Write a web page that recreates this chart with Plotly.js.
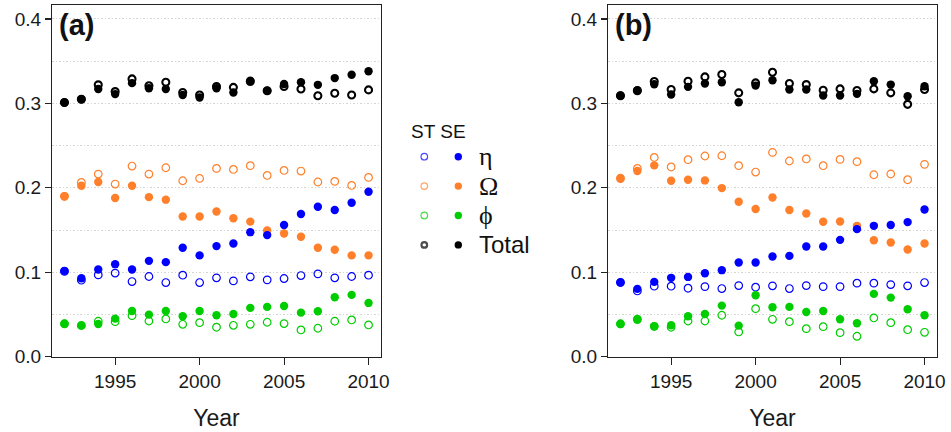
<!DOCTYPE html>
<html>
<head>
<meta charset="utf-8">
<script src="https://cdn.plot.ly/plotly-3.0.1.min.js"></script>
<style>
  html, body { margin: 0; padding: 0; background: #fff; }
  #chart { width: 951px; height: 432px; }
</style>
</head>
<body>
<div id="chart"></div>
<script>
// Years sampled in both panels
const years = [1992, 1993, 1994, 1995, 1996, 1997, 1998, 1999, 2000, 2001,
               2002, 2003, 2004, 2005, 2006, 2007, 2008, 2009, 2010];

// Panel (a)
const a_eta_ST = [0.101, 0.0906, 0.0969, 0.099, 0.089, 0.095, 0.0878, 0.0965, 0.0878, 0.0934,
                  0.0898, 0.0946, 0.091, 0.0926, 0.0961, 0.0981, 0.0934, 0.095, 0.0965];
const a_eta_SE = [0.1017, 0.093, 0.1032, 0.1096, 0.1032, 0.1135, 0.112, 0.129, 0.120, 0.131,
                  0.134, 0.1475, 0.144, 0.156, 0.169, 0.1776, 0.1737, 0.1823, 0.1954];
const a_omega_ST = [0.190, 0.2064, 0.2163, 0.2045, 0.2258, 0.2163, 0.2238, 0.2084, 0.2112, 0.223,
                    0.2218, 0.2262, 0.2147, 0.2206, 0.2199, 0.2069, 0.2076, 0.2028, 0.2123];
const a_omega_SE = [0.190, 0.2025, 0.207, 0.188, 0.2025, 0.189, 0.186, 0.166, 0.166, 0.172,
                    0.164, 0.160, 0.1495, 0.146, 0.142, 0.129, 0.1266, 0.120, 0.120];
const a_phi_ST = [0.039, 0.037, 0.042, 0.0415, 0.0486, 0.0423, 0.0447, 0.0384, 0.0403, 0.0349,
                  0.0372, 0.0384, 0.0408, 0.0392, 0.0317, 0.0337, 0.042, 0.0435, 0.0376];
const a_phi_SE = [0.0392, 0.0368, 0.0388, 0.0451, 0.0542, 0.0498, 0.0542, 0.0479, 0.0542, 0.0491,
                  0.0506, 0.0578, 0.059, 0.0601, 0.0522, 0.0538, 0.0704, 0.0732, 0.0637];
const a_tot_ST = [0.301, 0.305, 0.322, 0.314, 0.329, 0.321, 0.325, 0.313, 0.310, 0.320,
                  0.319, 0.326, 0.315, 0.320, 0.317, 0.309, 0.312, 0.310, 0.316];
const a_tot_SE = [0.301, 0.305, 0.317, 0.311, 0.324, 0.318, 0.317, 0.310, 0.307, 0.318,
                  0.313, 0.327, 0.315, 0.323, 0.325, 0.322, 0.330, 0.334, 0.338];

// Panel (b)
const b_eta_ST = [0.088, 0.0779, 0.0835, 0.0835, 0.0811, 0.083, 0.0807, 0.0842, 0.0823, 0.0839,
                  0.0807, 0.0842, 0.083, 0.083, 0.0871, 0.0871, 0.0854, 0.0839, 0.0878];
const b_eta_SE = [0.0878, 0.0803, 0.0886, 0.0934, 0.0945, 0.0989, 0.1025, 0.1115, 0.1115, 0.1186,
                  0.1194, 0.1305, 0.1305, 0.1384, 0.1511, 0.155, 0.1559, 0.1594, 0.1744];
const b_omega_ST = [0.211, 0.223, 0.236, 0.2247, 0.2333, 0.2377, 0.238, 0.2262, 0.2187, 0.242,
                    0.2318, 0.2342, 0.2262, 0.2337, 0.231, 0.2155, 0.2164, 0.2096, 0.2278];
const b_omega_SE = [0.2116, 0.2199, 0.2266, 0.2084, 0.2096, 0.2088, 0.1997, 0.1835, 0.1749, 0.1886,
                    0.1737, 0.1696, 0.1598, 0.1602, 0.155, 0.138, 0.1352, 0.1269, 0.134];
const b_phi_ST = [0.039, 0.044, 0.036, 0.0349, 0.0423, 0.0423, 0.0491, 0.0293, 0.0569, 0.0443,
                  0.0415, 0.0332, 0.0356, 0.0285, 0.0242, 0.0459, 0.0403, 0.032, 0.0289];
const b_phi_SE = [0.0388, 0.0447, 0.036, 0.0372, 0.0479, 0.0506, 0.0605, 0.0368, 0.0728, 0.0586,
                  0.059, 0.053, 0.0542, 0.0443, 0.0396, 0.0744, 0.07, 0.0562, 0.0491];
const b_tot_ST = [0.309, 0.315, 0.3259, 0.3164, 0.3262, 0.3314, 0.3342, 0.3125, 0.3243, 0.3369,
                  0.3235, 0.3223, 0.3155, 0.3172, 0.3152, 0.3172, 0.3125, 0.2989, 0.3164];
const b_tot_SE = [0.3093, 0.3155, 0.3227, 0.3105, 0.3196, 0.3235, 0.325, 0.3013, 0.3211, 0.3274,
                  0.3164, 0.3164, 0.3093, 0.3093, 0.3113, 0.3262, 0.3223, 0.3084, 0.3203];

// Legend content
const legendLabels = ['\u03b7', '\u03a9', '\u03d5', 'Total'];
const seriesColors = ['#0000ff', '#ff7f2a', '#00cd00', '#000000'];
const xTicks = [1995, 2000, 2005, 2010];
const yTicks = [0.0, 0.1, 0.2, 0.3, 0.4];
const gridTicks = [0.05, 0.1, 0.15, 0.2, 0.25, 0.3, 0.35, 0.4];

const W = 951, H = 432;
const px = x => x / W;
const py = y => 1 - y / H;

const FONT = '"Liberation Sans", Arial, sans-serif';
const SERIF = '"Liberation Serif", "Times New Roman", serif';

function openTrace(x, y, color, xa, ya, thick) {
  return {
    type: 'scatter', mode: 'markers', x: x, y: y, xaxis: xa, yaxis: ya,
    hoverinfo: 'skip', showlegend: false,
    marker: { symbol: 'circle-open', size: thick ? 7 : 7.6, color: color,
              line: { color: color, width: thick ? 2.1 : 1.2 } }
  };
}
function filledTrace(x, y, color, xa, ya) {
  return {
    type: 'scatter', mode: 'markers', x: x, y: y, xaxis: xa, yaxis: ya,
    hoverinfo: 'skip', showlegend: false,
    marker: { symbol: 'circle', size: 8.4, color: color, line: { width: 0 } }
  };
}

const panels = [
  { xa: 'x', ya: 'y',
    ST: [a_eta_ST, a_omega_ST, a_phi_ST, a_tot_ST],
    SE: [a_eta_SE, a_omega_SE, a_phi_SE, a_tot_SE] },
  { xa: 'x2', ya: 'y2',
    ST: [b_eta_ST, b_omega_ST, b_phi_ST, b_tot_ST],
    SE: [b_eta_SE, b_omega_SE, b_phi_SE, b_tot_SE] }
];

const traces = [];
panels.forEach(p => {
  // open (ST) markers first, filled (SE) markers drawn over them
  [0, 1, 2, 3].forEach(i => traces.push(openTrace(years, p.ST[i], seriesColors[i], p.xa, p.ya, i === 3)));
  [1, 2, 0, 3].forEach(i => traces.push(filledTrace(years, p.SE[i], seriesColors[i], p.xa, p.ya)));
});

// Legend block: two marker columns (ST, SE) on a hidden axis, one row per series
const rows = [0, 1, 2, 3];
traces.push({
  type: 'scatter', mode: 'markers', x: rows.map(() => 0), y: rows.map(r => -r),
  xaxis: 'x3', yaxis: 'y3', hoverinfo: 'skip', showlegend: false,
  marker: { symbol: 'circle-open', size: rows.map(r => r === 3 ? 5.6 : 6.6),
            color: seriesColors, line: { color: seriesColors, width: rows.map(r => r === 3 ? 2.2 : 1.2) } }
});
traces.push({
  type: 'scatter', mode: 'markers', x: rows.map(() => 1), y: rows.map(r => -r),
  xaxis: 'x3', yaxis: 'y3', hoverinfo: 'skip', showlegend: false,
  marker: { symbol: 'circle', size: 7.4, color: seriesColors, line: { width: 0 } }
});

const plotTop = 5.3, plotBottom = 356.7;
const yRange = [0, 0.4162];
const xRange = [1991.28, 2010.72];

function xAxis(l, r, anchor) {
  return {
    domain: [px(l), px(r)], anchor: anchor, range: xRange, fixedrange: true,
    showgrid: false, zeroline: false,
    showline: true, mirror: true, linecolor: '#222', linewidth: 1.3,
    ticks: 'outside', ticklen: 7, tickwidth: 1.1, tickcolor: '#222',
    tickmode: 'array', tickvals: xTicks, ticktext: xTicks.map(String),
    tickfont: { family: FONT, size: 19, color: '#1a1a1a' },
    title: { text: 'Year', font: { family: FONT, size: 23, color: '#1a1a1a' }, standoff: 19 }
  };
}
function yAxis(anchor) {
  return {
    domain: [py(plotBottom), py(plotTop)], anchor: anchor, range: yRange, fixedrange: true,
    zeroline: false,
    showline: true, mirror: true, linecolor: '#222', linewidth: 1.3,
    ticks: 'outside', ticklen: 6, tickwidth: 1.1, tickcolor: '#222',
    tickmode: 'array', tickvals: yTicks, ticktext: yTicks.map(v => v.toFixed(1)),
    tickfont: { family: FONT, size: 19, color: '#1a1a1a' },
    showgrid: false,
    // light dotted reference lines every 0.05
    minor: { tickmode: 'array', tickvals: gridTicks, showgrid: true, ticks: '',
             gridcolor: '#d4d4d4', gridwidth: 1, griddash: '1.5px,2px' }
  };
}

// Hidden axis carrying the legend markers
const colW = 34, rowH = 29.4;
const legL = 410, legR = 540, legT = 140, legB = 260;
const col0 = 424.3, row0 = 156.7;

const layout = {
  width: W, height: H,
  margin: { l: 0, r: 0, t: 0, b: 0 },
  paper_bgcolor: '#ffffff', plot_bgcolor: '#ffffff',
  showlegend: false,
  xaxis: xAxis(52.3, 380.7, 'y'),
  yaxis: yAxis('x'),
  xaxis2: xAxis(608.3, 936.7, 'y2'),
  yaxis2: yAxis('x2'),
  xaxis3: { domain: [px(legL), px(legR)], anchor: 'y3', visible: false, fixedrange: true,
            range: [-(col0 - legL) / colW, (legR - col0) / colW] },
  yaxis3: { domain: [py(legB), py(legT)], anchor: 'x3', visible: false, fixedrange: true,
            range: [-(legB - row0) / rowH, (row0 - legT) / rowH] },
  annotations: [
    { xref: 'paper', yref: 'paper', x: px(56.5), y: py(25), xanchor: 'left', yanchor: 'middle',
      text: '<b>(a)</b>', showarrow: false, font: { family: FONT, size: 29, color: '#111' } },
    { xref: 'paper', yref: 'paper', x: px(612.5), y: py(25), xanchor: 'left', yanchor: 'middle',
      text: '<b>(b)</b>', showarrow: false, font: { family: FONT, size: 29, color: '#111' } },
    { xref: 'paper', yref: 'paper', x: px(409), y: py(131.5), xanchor: 'left', yanchor: 'middle',
      text: 'ST SE', showarrow: false, font: { family: FONT, size: 19, color: '#111' } }
  ].concat(legendLabels.map((t, i) => ({
    xref: 'x3', yref: 'y3', x: 1.55, y: -i, xanchor: 'left', yanchor: 'middle',
    text: t, showarrow: false,
    font: { family: i === 3 ? FONT : SERIF, size: i === 3 ? 24 : 26, color: '#111' }
  })))
};

Plotly.newPlot('chart', traces, layout, { staticPlot: true, displayModeBar: false });
</script>
</body>
</html>
